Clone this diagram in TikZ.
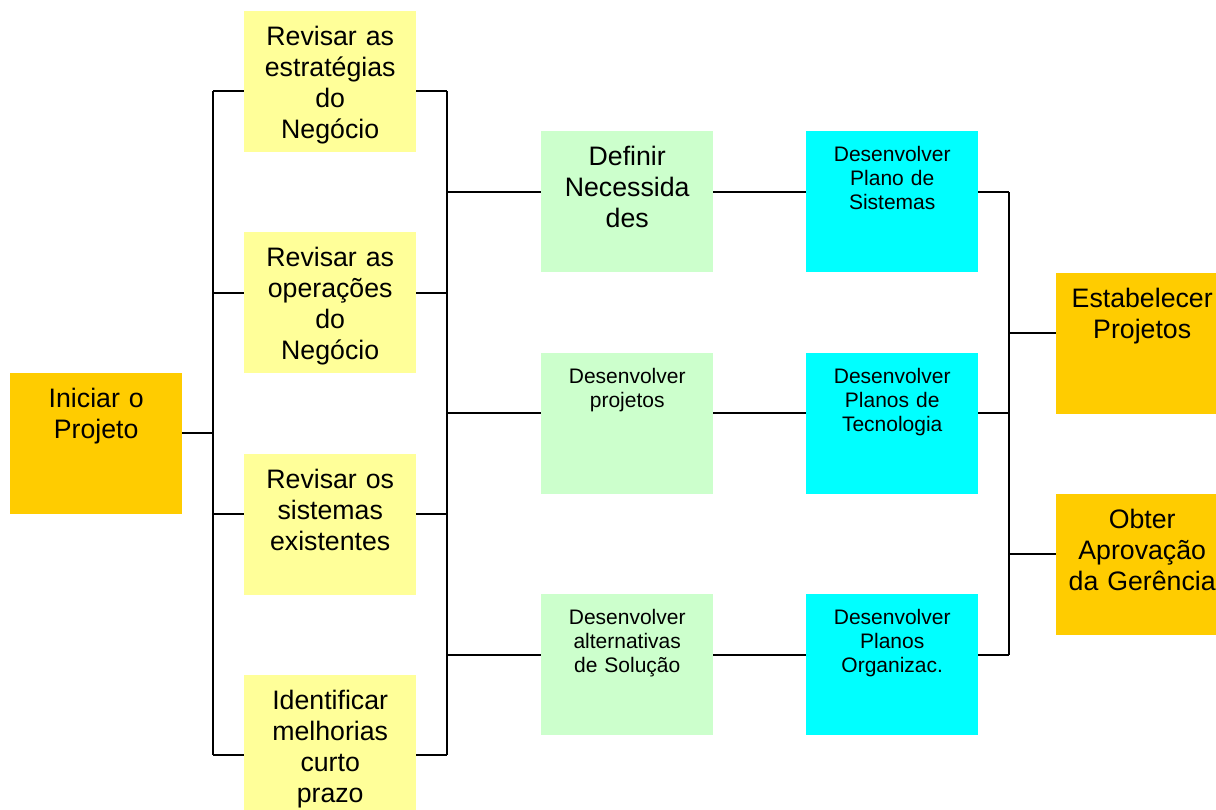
\documentclass[tikz,border=0pt]{standalone}
\usepackage{fontspec}
\setmainfont{Liberation Sans}
\usetikzlibrary{positioning}

\definecolor{laranja}{HTML}{FFCC00}
\definecolor{amarelo}{HTML}{FFFF99}
\definecolor{verde}{HTML}{CCFFCC}
\definecolor{ciano}{HTML}{00FFFF}

\begin{document}
\begin{tikzpicture}[x=1pt, y=-1pt,
    every node/.style={rectangle, inner sep=0pt, text width=172pt, align=center, anchor=north west, text=black},
    grande/.style={font=\fontsize{26.7}{31}\selectfont, text height=34pt, text depth=107pt},
    pequeno/.style={font=\fontsize{21}{24}\selectfont, text height=30pt, text depth=111pt},
    linha/.style={line width=1.8pt},
    ]
  \useasboundingbox (0,0) rectangle (1216,809);

  % inicio
  \node[grande, fill=laranja] (inicio) at (10,373) {Iniciar o\\Projeto};

  % revisoes
  \node[grande, fill=amarelo] (estrat) at (244,11) {Revisar as\\estratégias\\do\\Negócio};
  \node[grande, fill=amarelo] (operac) at (244,232) {Revisar as\\operações\\do\\Negócio};
  \node[grande, fill=amarelo] (sistex) at (244,454) {Revisar os\\sistemas\\existentes};
  \node[grande, fill=amarelo] (melhor) at (244,675) {Identificar\\melhorias\\curto\\prazo};

  % necessidades, projetos, alternativas
  \node[grande, fill=verde] (necess) at (541,131) {Definir\\Necessida\\des};
  \node[pequeno, fill=verde] (desproj) at (541,353) {Desenvolver\\projetos};
  \node[pequeno, fill=verde] (desalt) at (541,594) {Desenvolver\\alternativas\\de Solução};

  % planos
  \node[pequeno, fill=ciano] (plsist) at (806,131) {Desenvolver\\Plano de\\Sistemas};
  \node[pequeno, fill=ciano] (pltec) at (806,353) {Desenvolver\\Planos de\\Tecnologia};
  \node[pequeno, fill=ciano] (plorg) at (806,594) {Desenvolver\\Planos\\Organizac.};

  % resultado
  \node[grande, fill=laranja] (estab) at (1056,273) {Estabelecer\\Projetos};
  \node[grande, fill=laranja] (obter) at (1056,494) {Obter\\Aprovação\\da Gerência};

  % barramentos
  \coordinate (ja0) at (213,433);
  \coordinate (ja1) at (213,91);
  \coordinate (ja2) at (213,293);
  \coordinate (ja3) at (213,514);
  \coordinate (ja4) at (213,755);
  \coordinate (jb1) at (447,91);
  \coordinate (jb2) at (447,293);
  \coordinate (jb3) at (447,514);
  \coordinate (jb4) at (447,755);
  \coordinate (jn1) at (447,192);
  \coordinate (jn2) at (447,413);
  \coordinate (jn3) at (447,655);
  \coordinate (jc1) at (1009,192);
  \coordinate (jc2) at (1009,413);
  \coordinate (jc3) at (1009,655);
  \coordinate (jd1) at (1009,333);
  \coordinate (jd2) at (1009,554);

  \draw[linha] (ja0 -| inicio.east) -- (ja0);
  \draw[linha] (ja1) -- (ja4);
  \draw[linha] (jb1) -- (jb4);
  \draw[linha] (jc1) -- (jc3);
  \foreach \i/\n in {1/estrat, 2/operac, 3/sistex, 4/melhor} {
    \draw[linha] (ja\i) -- (ja\i -| \n.west);
    \draw[linha] (jb\i -| \n.east) -- (jb\i);
  }
  \foreach \i/\g/\c in {1/necess/plsist, 2/desproj/pltec, 3/desalt/plorg} {
    \draw[linha] (jn\i) -- (jn\i -| \g.west);
    \draw[linha] (jn\i -| \g.east) -- (jn\i -| \c.west);
    \draw[linha] (jc\i -| \c.east) -- (jc\i);
  }
  \draw[linha] (jd1) -- (jd1 -| estab.west);
  \draw[linha] (jd2) -- (jd2 -| obter.west);

\end{tikzpicture}
\end{document}
